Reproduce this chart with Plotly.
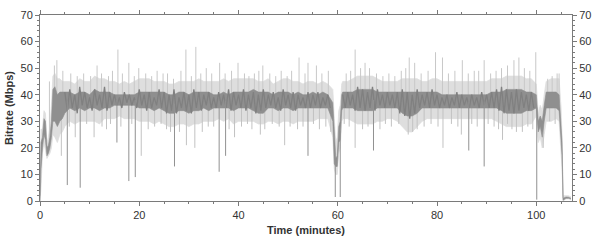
import numpy as np
import plotly.graph_objects as go

# ---- data (minutes, Mbps) ----
time_min = [0, 0.2, 0.5, 0.8, 1.1, 1.4, 1.7, 2.0, 2.3, 2.6, 3.0, 3.5, 4.0, 4.5, 5,
            6, 7, 8, 9, 10, 11, 12, 13, 14, 15, 16, 17, 18, 19, 20, 21, 22, 23, 24, 25,
            26, 27, 28, 29, 30, 31, 32, 33, 34, 35, 36, 37, 38, 39, 40, 41, 42, 43, 44, 45,
            46, 47, 48, 49, 50, 51, 52, 53, 54, 55, 56, 57, 58,
            59, 59.3, 59.6, 59.9, 60.2, 60.5, 60.8,
            61, 62, 63, 64, 65, 66, 67, 68, 69, 70, 71, 72, 73, 74, 75, 76, 77, 78, 79, 80,
            81, 82, 83, 84, 85, 86, 87, 88, 89, 90, 91, 92, 93, 94, 95, 96, 97, 98, 99, 100,
            100.4, 100.8, 101.2, 101.6, 102, 103, 104, 104.6, 105, 105.2, 105.4, 106, 106.5, 107]

outer_low = [0, 5, 18, 22, 19, 16, 17, 18, 20, 25, 24, 22, 25, 26, 28,
             30, 29, 30, 30, 30, 30, 29, 31, 31, 31, 32, 31, 31, 31, 30, 30, 30, 29, 30, 29,
             28, 28, 29, 29, 28, 29, 29, 30, 30, 30, 31, 30, 31, 29, 30, 30, 30, 30, 29, 29,
             30, 30, 29, 30, 30, 29, 30, 30, 30, 30, 31, 31, 31,
             24, 12, 10, 10, 18, 20, 30,
             31, 31, 30, 29, 29, 29, 29, 30, 30, 31, 31, 30, 28, 26, 26, 28, 30, 31, 31, 31,
             31, 31, 31, 31, 31, 31, 31, 31, 31, 31, 31, 30, 29, 28, 28, 28, 28, 29, 29, 32,
             22, 24, 20, 25, 30, 30, 31, 30, 20, 12, 0, 0.8, 0.8, 0.5]

inner_low = [0, 12, 20, 25, 23, 17, 18, 20, 24, 30, 30, 28, 30, 31, 33,
             35, 34, 35, 34, 35, 35, 34, 35, 35, 36, 36, 36, 36, 36, 35, 35, 35, 34, 35, 34,
             33, 33, 34, 34, 33, 34, 34, 35, 34, 35, 35, 35, 35, 34, 35, 35, 35, 34, 33, 33,
             35, 35, 34, 35, 35, 34, 35, 35, 35, 35, 35, 35, 35,
             30, 14, 13, 13, 22, 23, 34,
             35, 35, 35, 34, 34, 34, 34, 35, 35, 35, 35, 35, 33, 32, 32, 33, 35, 35, 35, 35,
             35, 35, 35, 35, 35, 35, 35, 35, 35, 35, 35, 35, 34, 33, 33, 33, 33, 34, 34, 35,
             26, 28, 24, 30, 35, 35, 35, 34, 24, 17, 0.3, 1.0, 1.0, 0.8]

inner_high = [2, 22, 24, 31, 30, 20, 21, 24, 30, 42, 43, 40, 41, 41, 41,
              41, 40, 41, 41, 40, 42, 41, 41, 41, 40, 40, 40, 40, 40, 41, 41, 41, 41, 41, 41,
              40, 40, 41, 41, 40, 41, 41, 41, 41, 40, 40, 41, 40, 41, 41, 41, 41, 42, 41, 41,
              41, 40, 41, 41, 41, 40, 41, 40, 40, 41, 40, 41, 40,
              37, 26, 16, 17, 28, 30, 40,
              41, 41, 41, 42, 42, 42, 42, 41, 41, 41, 41, 41, 41, 41, 41, 41, 41, 41, 41, 41,
              40, 40, 40, 40, 40, 40, 40, 40, 40, 40, 41, 41, 41, 42, 42, 42, 42, 41, 41, 40,
              30, 32, 30, 36, 41, 41, 41, 40, 30, 22, 1.0, 1.5, 1.4, 1.0]

outer_high = [5, 27, 27, 34, 33, 22, 24, 28, 36, 47, 48, 46, 46, 45, 45,
              45, 44, 46, 45, 45, 47, 46, 46, 45, 45, 44, 45, 44, 45, 46, 46, 46, 45, 45, 45,
              44, 44, 45, 45, 45, 45, 46, 45, 45, 45, 45, 46, 45, 46, 46, 46, 46, 46, 45, 45,
              46, 44, 45, 46, 46, 45, 45, 44, 45, 45, 44, 45, 44,
              42, 31, 22, 24, 34, 36, 44,
              45, 45, 46, 47, 47, 47, 47, 46, 45, 45, 45, 45, 46, 46, 46, 46, 45, 45, 46, 46,
              45, 45, 45, 45, 45, 45, 45, 45, 45, 45, 46, 46, 46, 47, 47, 47, 47, 46, 46, 44,
              33, 36, 34, 40, 45, 46, 46, 46, 35, 24, 2.0, 2.0, 2.0, 1.5]

# half-minute samples of the dark core trace (two stretches: 5-58.5 and 61-99.5 min)
core_a_start = 5.0
core_a = [41, 34, 42, 35, 40, 33, 43, 36, 41, 35, 39, 34, 42, 36, 40, 35, 43, 34, 41, 36,
          40, 36, 39, 35, 41, 37, 40, 36, 39, 35, 42, 36, 40, 34, 41, 35, 39, 36, 42, 35,
          41, 33, 40, 34, 42, 33, 39, 35, 41, 34, 40, 33, 42, 35, 41, 34, 40, 36, 41, 35,
          39, 35, 41, 36, 40, 35, 42, 34, 41, 36, 40, 35, 42, 34, 40, 35, 41, 33, 40, 34,
          42, 35, 40, 36, 41, 35, 39, 34, 42, 36, 40, 35, 41, 34, 40, 36, 39, 35, 41, 35,
          40, 36, 41, 35, 39, 36, 40, 35]
core_b_start = 61.0
core_b = [40, 35, 41, 36, 40, 34, 43, 35, 42, 34, 41, 35, 43, 34, 42, 36, 40, 35, 41, 36,
          40, 35, 41, 33, 42, 32, 41, 31, 40, 33, 42, 35, 40, 36, 41, 35, 42, 36, 40, 35,
          39, 36, 40, 35, 39, 36, 41, 35, 40, 36, 39, 35, 40, 36, 39, 35, 41, 36, 40, 35,
          41, 35, 42, 34, 43, 33, 42, 34, 41, 33, 42, 34, 41, 35, 40, 34, 41, 35]
core_step = 0.5

peak_t = [1.9, 2.9, 3.4, 4.6, 6.2, 7.5, 8.8, 10.2, 11.5, 12.4,
          13.8, 14.6, 15.7, 16.6, 17.9, 19.0, 19.9, 21.3, 22.5, 23.6,
          24.8, 25.7, 26.9, 28.4, 29.4, 30.5, 31.4, 32.4, 33.5, 34.6,
          36.2, 37.3, 38.6, 39.9, 41.2, 42.1, 43.2, 44.1, 44.9, 46.3,
          47.5, 48.6, 49.8, 50.7, 52.2, 53.4, 54.0, 55.7, 56.8, 58.1,
          61.7, 62.6, 63.5, 64.6, 65.5, 66.4, 67.8, 69.1, 70.3, 71.5,
          72.8, 73.7, 74.4, 75.5, 76.8, 78.2, 79.7, 81.1, 82.3, 83.6,
          85.1, 86.3, 87.5, 88.4, 89.5, 90.8, 91.9, 93.0, 94.2, 95.5,
          96.5, 97.6, 98.7, 99.9, 102.3, 103.2, 104.2, 104.6]
peak_v = [45, 51, 53, 49, 48, 47, 48, 47, 51, 48,
          47, 49, 57, 48, 52, 47, 50, 48, 47, 49,
          48, 48, 46, 49, 57, 47, 58, 48, 50, 48,
          52, 48, 49, 52, 48, 47, 48, 49, 51, 48,
          47, 49, 47, 49, 54, 48, 52, 51, 48, 49,
          48, 49, 57, 50, 52, 50, 48, 47, 48, 47,
          49, 50, 54, 52, 48, 49, 56, 54, 48, 49,
          53, 48, 49, 49, 53, 48, 49, 50, 51, 53,
          54, 50, 49, 56, 46, 47, 48, 48]

dip_t = [4.3, 5.9, 7.1, 9.4, 10.9, 12.5, 13.4, 14.2, 16.3, 18.5,
         20.4, 21.8, 23.1, 24.4, 25.5, 26.3, 28.1, 29.5, 31.2, 32.7,
         33.9, 35.0, 38.1, 39.2, 40.6, 41.8, 42.7, 44.4, 45.3, 46.8,
         48.2, 49.3, 50.4, 51.9, 53.0, 55.1, 56.3, 57.6, 58.6, 61.3,
         62.3, 63.5, 65.0, 66.1, 68.5, 69.6, 70.8, 72.3, 74.2, 75.1,
         76.0, 77.4, 78.8, 80.2, 81.2, 82.9, 84.2, 84.9, 87.0, 88.1,
         90.3, 91.5, 92.4, 93.2, 94.2, 95.1, 96.0, 97.2, 98.3, 99.3,
         101.4, 102.7, 103.8]
dip_v = [17, 28, 24, 29, 24, 28, 27, 29, 28, 29,
         17, 27, 28, 29, 27, 26, 26, 21, 20, 26,
         28, 28, 27, 24, 28, 29, 27, 25, 27, 29,
         28, 21, 28, 27, 28, 29, 27, 28, 26, 29,
         28, 20, 27, 28, 27, 29, 28, 29, 25, 26,
         27, 28, 29, 28, 20, 29, 28, 25, 29, 28,
         29, 28, 27, 23, 29, 27, 26, 26, 28, 27,
         20, 30, 29]

deep_t = [5.5, 8.1, 15.5, 17.9, 19.2, 27.1, 36.1, 37.4, 54.0, 59.5,
          60.5, 67.2, 86.4, 89.5, 100.1]
deep_v = [6, 5, 22, 7.5, 9, 13, 11, 17, 17, 1.5,
          1.5, 19, 19, 13, 0.5]

y_ticks = [0, 10, 20, 30, 40, 50, 60, 70]
x_ticks = [0, 20, 40, 60, 80, 100]

# ---- drawing ----
mid = (np.array(inner_low) + np.array(inner_high)) / 2.0


def spike_xy(ts, vs):
    xs, ys = [], []
    for t, v in zip(ts, vs):
        base = float(np.interp(t, time_min, mid))
        xs += [t, t, None]
        ys += [base, v, None]
    return xs, ys


def core_xy():
    xs = list(core_a_start + core_step * np.arange(len(core_a)))
    ys = list(core_a)
    xs += [None]
    ys += [None]
    xs += list(core_b_start + core_step * np.arange(len(core_b)))
    ys += list(core_b)
    return xs, ys


fig = go.Figure()
LIGHT = "#dedede"
MID = "#8f8f8f"
DARK = "#808080"

fig.add_trace(go.Scatter(x=time_min, y=outer_low, mode="lines",
                         line=dict(color=LIGHT, width=0.8), hoverinfo="skip"))
fig.add_trace(go.Scatter(x=time_min, y=outer_high, mode="lines", fill="tonexty",
                         fillcolor=LIGHT, line=dict(color=LIGHT, width=0.8), hoverinfo="skip"))

px_, py_ = spike_xy(peak_t, peak_v)
fig.add_trace(go.Scatter(x=px_, y=py_, mode="lines",
                         line=dict(color="#c8c8c8", width=1), hoverinfo="skip"))
dx_, dy_ = spike_xy(dip_t, dip_v)
fig.add_trace(go.Scatter(x=dx_, y=dy_, mode="lines",
                         line=dict(color="#c2c2c2", width=1), hoverinfo="skip"))

fig.add_trace(go.Scatter(x=time_min, y=inner_low, mode="lines",
                         line=dict(color=MID, width=0.6), hoverinfo="skip"))
fig.add_trace(go.Scatter(x=time_min, y=inner_high, mode="lines", fill="tonexty",
                         fillcolor=MID, line=dict(color=MID, width=0.6), hoverinfo="skip"))

cx_, cy_ = core_xy()
fig.add_trace(go.Scatter(x=cx_, y=cy_, mode="lines",
                         line=dict(color=DARK, width=1.3), hoverinfo="skip"))

ex_, ey_ = spike_xy(deep_t, deep_v)
fig.add_trace(go.Scatter(x=ex_, y=ey_, mode="lines",
                         line=dict(color="#919191", width=1), hoverinfo="skip"))

# invisible trace to activate the right-hand axis
fig.add_trace(go.Scatter(x=[0], y=[0], yaxis="y2", mode="markers",
                         marker=dict(opacity=0), hoverinfo="skip"))

FONT = dict(family="Liberation Sans, Arial, sans-serif", size=11, color="#333333")
axis_common = dict(showline=True, linecolor="#7a7a7a", linewidth=1, showgrid=False,
                   zeroline=False, ticks="outside", tickcolor="#7a7a7a", ticklen=4,
                   tickfont=FONT)

fig.update_layout(
    width=600, height=244,
    margin=dict(l=40, r=24, t=9, b=36),
    paper_bgcolor="white", plot_bgcolor="white",
    showlegend=False,
    xaxis=dict(range=[0, 107.2], tickvals=x_ticks, mirror="ticks",
               minor=dict(dtick=5, ticks="outside", ticklen=2, tickcolor="#7a7a7a"),
               title=dict(text="<b>Time (minutes)</b>", font=FONT, standoff=6),
               **axis_common),
    yaxis=dict(range=[0, 70], tickvals=y_ticks, mirror=True,
               minor=dict(dtick=2, ticks="outside", ticklen=2, tickcolor="#7a7a7a"),
               title=dict(text="<b>Bitrate (Mbps)</b>", font=FONT, standoff=4),
               **axis_common),
    yaxis2=dict(range=[0, 70], tickvals=y_ticks, overlaying="y", side="right",
                matches="y",
                minor=dict(dtick=2, ticks="outside", ticklen=2, tickcolor="#7a7a7a"),
                **axis_common),
)

fig.write_html("out.html")
